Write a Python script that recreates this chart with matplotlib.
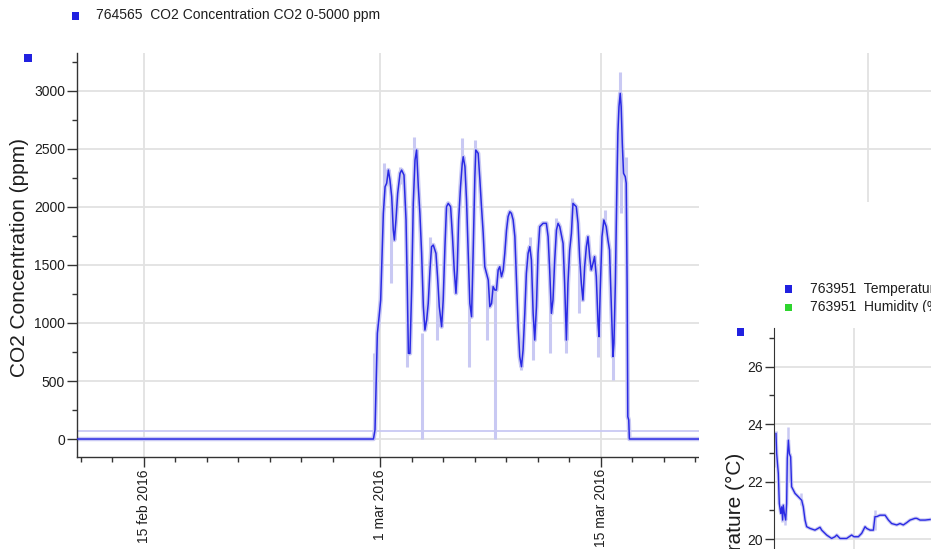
import datetime
import matplotlib
matplotlib.use("Agg")
import matplotlib.pyplot as plt
import matplotlib.dates as mdates
import matplotlib.ticker as mticker
from matplotlib.patches import Rectangle
import numpy as np

plt.rcParams['font.family'] = ['Liberation Sans', 'DejaVu Sans']

# CO2 sensor 764565, days after 1 mar 2016 and ppm (averaged line)
co2_day = [-19.3, -0.42, -0.32, -0.25, -0.17, -0.06, 0.04, 0.11, 0.21, 0.32,
           0.42, 0.53, 0.63, 0.74, 0.84, 0.91, 1.01, 1.12, 1.27, 1.37,
           1.52, 1.65, 1.73, 1.80, 1.90, 2.01, 2.11, 2.22, 2.32, 2.43,
           2.53, 2.64, 2.75, 2.85, 2.96, 3.06, 3.17, 3.27, 3.38, 3.55,
           3.65, 3.76, 3.91, 4.01, 4.12, 4.22, 4.33, 4.48, 4.60, 4.71,
           4.82, 4.90, 4.99, 5.11, 5.22, 5.28, 5.39, 5.49, 5.60, 5.70,
           5.81, 5.91, 6.02, 6.08, 6.23, 6.34, 6.44, 6.55, 6.65, 6.76,
           6.87, 6.97, 7.08, 7.18, 7.29, 7.39, 7.50, 7.60, 7.71, 7.82,
           7.92, 8.03, 8.13, 8.24, 8.34, 8.45, 8.56, 8.66, 8.77, 8.87,
           8.98, 9.08, 9.19, 9.29, 9.40, 9.51, 9.61, 9.72, 9.82, 9.93,
           10.03, 10.14, 10.35, 10.56, 10.67, 10.77, 10.88, 10.98, 11.09, 11.20,
           11.30, 11.41, 11.62, 11.72, 11.83, 11.93, 12.04, 12.15, 12.25, 12.46,
           12.57, 12.67, 12.78, 12.88, 12.99, 13.10, 13.20, 13.31, 13.41, 13.52,
           13.62, 13.73, 13.84, 13.90, 13.98, 14.09, 14.21, 14.36, 14.47, 14.57,
           14.68, 14.79, 14.85, 14.94, 15.04, 15.10, 15.17, 15.25, 15.31, 15.38,
           15.46, 15.57, 15.63, 15.69, 15.73, 15.79, 15.83, 35.5]
co2_ppm = [0, 0, 78, 451, 911, 1054, 1198, 1514, 1945, 2175,
           2204, 2318, 2232, 2089, 1801, 1715, 1888, 2117, 2290, 2318,
           2275, 1888, 1313, 738, 738, 1313, 2031, 2405, 2491, 2175,
           1945, 1600, 1141, 939, 1026, 1169, 1457, 1658, 1672, 1600,
           1399, 1141, 968, 1198, 1658, 2002, 2031, 2002, 1744, 1457,
           1256, 1457, 1888, 2175, 2376, 2433, 2347, 2060, 1600, 1169,
           1054, 1600, 2261, 2491, 2462, 2232, 2002, 1773, 1485, 1428,
           1370, 1141, 1169, 1313, 1284, 1284, 1457, 1485, 1399, 1457,
           1600, 1801, 1916, 1959, 1945, 1888, 1744, 1370, 968, 710,
           623, 767, 1083, 1428, 1600, 1658, 1543, 1083, 853, 1141,
           1600, 1830, 1859, 1859, 1744, 1457, 1083, 1198, 1543, 1801,
           1859, 1830, 1686, 1342, 853, 1342, 1629, 1773, 2031, 2002,
           1859, 1572, 1342, 1198, 1485, 1658, 1744, 1572, 1457, 1514,
           1572, 1399, 997, 882, 1284, 1744, 1888, 1830, 1715, 1629,
           1169, 710, 825, 1342, 2204, 2635, 2864, 2979, 2864, 2548,
           2290, 2261, 2204, 1284, 192, 164, 0, 0]

# min/max excursions (light band)
spike_day = [-0.38, 0.27, 0.68, 1.27, 1.73, 2.18, 2.64, 3.17, 3.63, 5.18,
             5.64, 6.02, 6.82, 7.33, 8.98, 9.50, 9.72, 10.77, 11.20, 11.83,
             12.21, 12.63, 13.85, 14.26, 14.79, 15.21, 15.33, 15.60]
spike_lo = [0, 2100, 1342, 2200, 623, 2300, 0, 1457, 853, 2300,
            623, 2261, 853, 0, 595, 1658, 681, 738, 1801, 738,
            2002, 1083, 710, 1888, 508, 2900, 1945, 2200]
spike_hi = [738, 2376, 2200, 2347, 1300, 2606, 911, 1744, 1400, 2591,
            1500, 2577, 1400, 1284, 700, 1744, 1083, 1457, 1902, 1342,
            2074, 1572, 1300, 1974, 1100, 3166, 2600, 2433]
co2_ref_line = 70

# temperature sensor 763951 (partly visible panel), days from panel start
temp_day = [0.125, 0.167, 0.27, 0.33, 0.42, 0.48, 0.54, 0.58, 0.65, 0.73,
            0.79, 0.83, 0.90, 0.96, 1.04, 1.10, 1.21, 1.31, 1.52, 1.73,
            1.83, 1.94, 2.04, 2.25, 2.56, 2.875, 2.98, 3.29, 3.6, 3.81,
            3.92, 4.125, 4.54, 4.85, 5.0, 5.27, 5.48, 5.69, 5.79, 6.0,
            6.21, 6.31, 6.42, 6.625, 6.94, 7.15, 7.35, 7.67, 7.875, 8.08,
            8.29, 8.5, 8.81, 8.92, 9.125, 9.44, 9.75]
temp_c = [23.67, 22.97, 22.28, 21.24, 20.89, 21.12, 20.66, 21.18, 20.89, 20.66,
          21.24, 22.80, 23.44, 22.97, 22.86, 21.82, 21.70, 21.59, 21.47, 21.35,
          21.12, 20.66, 20.43, 20.37, 20.31, 20.41, 20.31, 20.14, 20.02, 20.08,
          20.14, 20.02, 20.02, 20.14, 20.08, 20.08, 20.20, 20.43, 20.37, 20.31,
          20.31, 20.78, 20.78, 20.83, 20.83, 20.66, 20.54, 20.49, 20.54, 20.49,
          20.57, 20.66, 20.72, 20.72, 20.66, 20.66, 20.68]
temp_spike_day = [0.12, 0.5, 0.7, 0.9, 1.0, 1.7, 6.3]
temp_spike_lo = [22.5, 20.6, 20.5, 22.6, 22.0, 21.2, 20.3]
temp_spike_hi = [23.75, 21.2, 21.0, 23.9, 23.0, 21.6, 21.0]

W, H = 931, 549
dark = '#2a2ae4'
light = '#c9c9f3'
grid_c = '#e2e2e2'
spine_c = '#333333'
txt_c = '#1e1e1e'


def fx(x):
    return x / W


def fy(y):
    return 1 - y / H


def square(x, y, color, size=7.5, z=4):
    fig.add_artist(Rectangle((fx(x - size / 2), fy(y + size / 2)), size / W, size / H,
                             transform=fig.transFigure, facecolor=color,
                             edgecolor='none', zorder=z))


def month_fmt(v, pos=None):
    d = mdates.num2date(v)
    return f"{d.day} {d.strftime('%b').lower()} {d.year}"


fig = plt.figure(figsize=(W / 100, H / 100), dpi=100)

# main CO2 chart
ax = fig.add_axes([fx(77), fy(457), fx(931) - fx(77), fy(53) - fy(457)])
base = mdates.date2num(datetime.datetime(2016, 3, 1))
t = base + np.array(co2_day)
ax.axhline(co2_ref_line, color=light, lw=1.3, zorder=2)
ax.plot(t, co2_ppm, color=light, lw=3.2, zorder=2)
ax.vlines(base + np.array(spike_day), spike_lo, spike_hi, color=light, lw=2.2, zorder=2)
ax.plot(t, co2_ppm, color=dark, lw=1.1, zorder=3)

ax.set_xlim(base - 19.24, base + 34.98)
ax.set_ylim(-155, 3327)
ax.xaxis.set_major_locator(mdates.DayLocator(bymonthday=[1, 15]))
ax.xaxis.set_minor_locator(mdates.DayLocator(bymonthday=list(range(1, 29, 2))))
ax.xaxis.set_major_formatter(mticker.FuncFormatter(month_fmt))
ax.yaxis.set_major_locator(mticker.MultipleLocator(500))
ax.yaxis.set_minor_locator(mticker.MultipleLocator(250))
ax.tick_params(which='major', length=7.2, width=1, color=spine_c, labelsize=10,
               labelcolor=txt_c, pad=1.5)
ax.tick_params(which='minor', length=3.4, width=1, color=spine_c)
ax.tick_params(axis='x', which='major', labelrotation=90)
ax.grid(True, which='major', color=grid_c, lw=1.3)
ax.set_axisbelow(True)
for s in ['top', 'right']:
    ax.spines[s].set_visible(False)
for s in ['left', 'bottom']:
    ax.spines[s].set_color(spine_c)
    ax.spines[s].set_linewidth(1)

fig.text(fx(20), fy(257.5), "CO2 Concentration (ppm)", rotation=90, ha='center',
         va='center', fontsize=15, color=txt_c)
square(75.5, 16, '#2121e0')
fig.text(fx(96), fy(14.5), "764565  CO2 Concentration CO2 0-5000 ppm", ha='left',
         va='center', fontsize=10, color=txt_c)
square(28, 58, '#2121e0')

# overlapping temperature panel
fig.add_artist(Rectangle((fx(699), 0), 1 - fx(699), fy(202), transform=fig.transFigure,
                         facecolor='white', edgecolor='none', zorder=2))
square(788.7, 289, '#2121e0')
square(788.7, 307.7, '#2ed52e')
fig.text(fx(810), fy(289), "763951  Temperature (°C)", ha='left', va='center',
         fontsize=10, color=txt_c, zorder=4)
fig.text(fx(810), fy(307.5), "763951  Humidity (%)", ha='left', va='center',
         fontsize=10, color=txt_c, zorder=4)
fig.add_artist(Rectangle((fx(699), fy(326)), 1 - fx(699), (326 - 311.5) / H,
                         transform=fig.transFigure, facecolor='white',
                         edgecolor='none', zorder=4.5))
square(740.3, 332, '#2121e0', z=5)

ax2 = fig.add_axes([fx(774), fy(567.8), fx(931) - fx(774), fy(328) - fy(567.8)])
ax2.set_zorder(5)
ax2.plot(temp_day, temp_c, color=light, lw=2.5)
ax2.vlines(temp_spike_day, temp_spike_lo, temp_spike_hi, color=light, lw=1.8)
ax2.plot(temp_day, temp_c, color=dark, lw=1.0)
ax2.set_xlim(0, 9.81)
ax2.set_ylim(19.0, 27.34)
ax2.xaxis.set_major_locator(mticker.MultipleLocator(5))
ax2.yaxis.set_major_locator(mticker.MultipleLocator(2))
ax2.yaxis.set_minor_locator(mticker.MultipleLocator(1))
ax2.tick_params(axis='x', which='both', length=0, labelbottom=False)
ax2.tick_params(axis='y', which='major', length=6.5, width=1, color=spine_c,
                labelsize=10, labelcolor=txt_c, pad=1.5)
ax2.tick_params(axis='y', which='minor', length=3.4, width=1, color=spine_c)
ax2.grid(True, which='major', color=grid_c, lw=1.3)
ax2.set_axisbelow(True)
for s in ['top', 'right', 'bottom']:
    ax2.spines[s].set_visible(False)
ax2.spines['left'].set_color(spine_c)
fig.text(fx(735), fy(453), "Temperature (°C)", rotation=90, ha='center', va='top',
         fontsize=15, color=txt_c, zorder=6)

fig.savefig("out.png", dpi=100, facecolor='white')
